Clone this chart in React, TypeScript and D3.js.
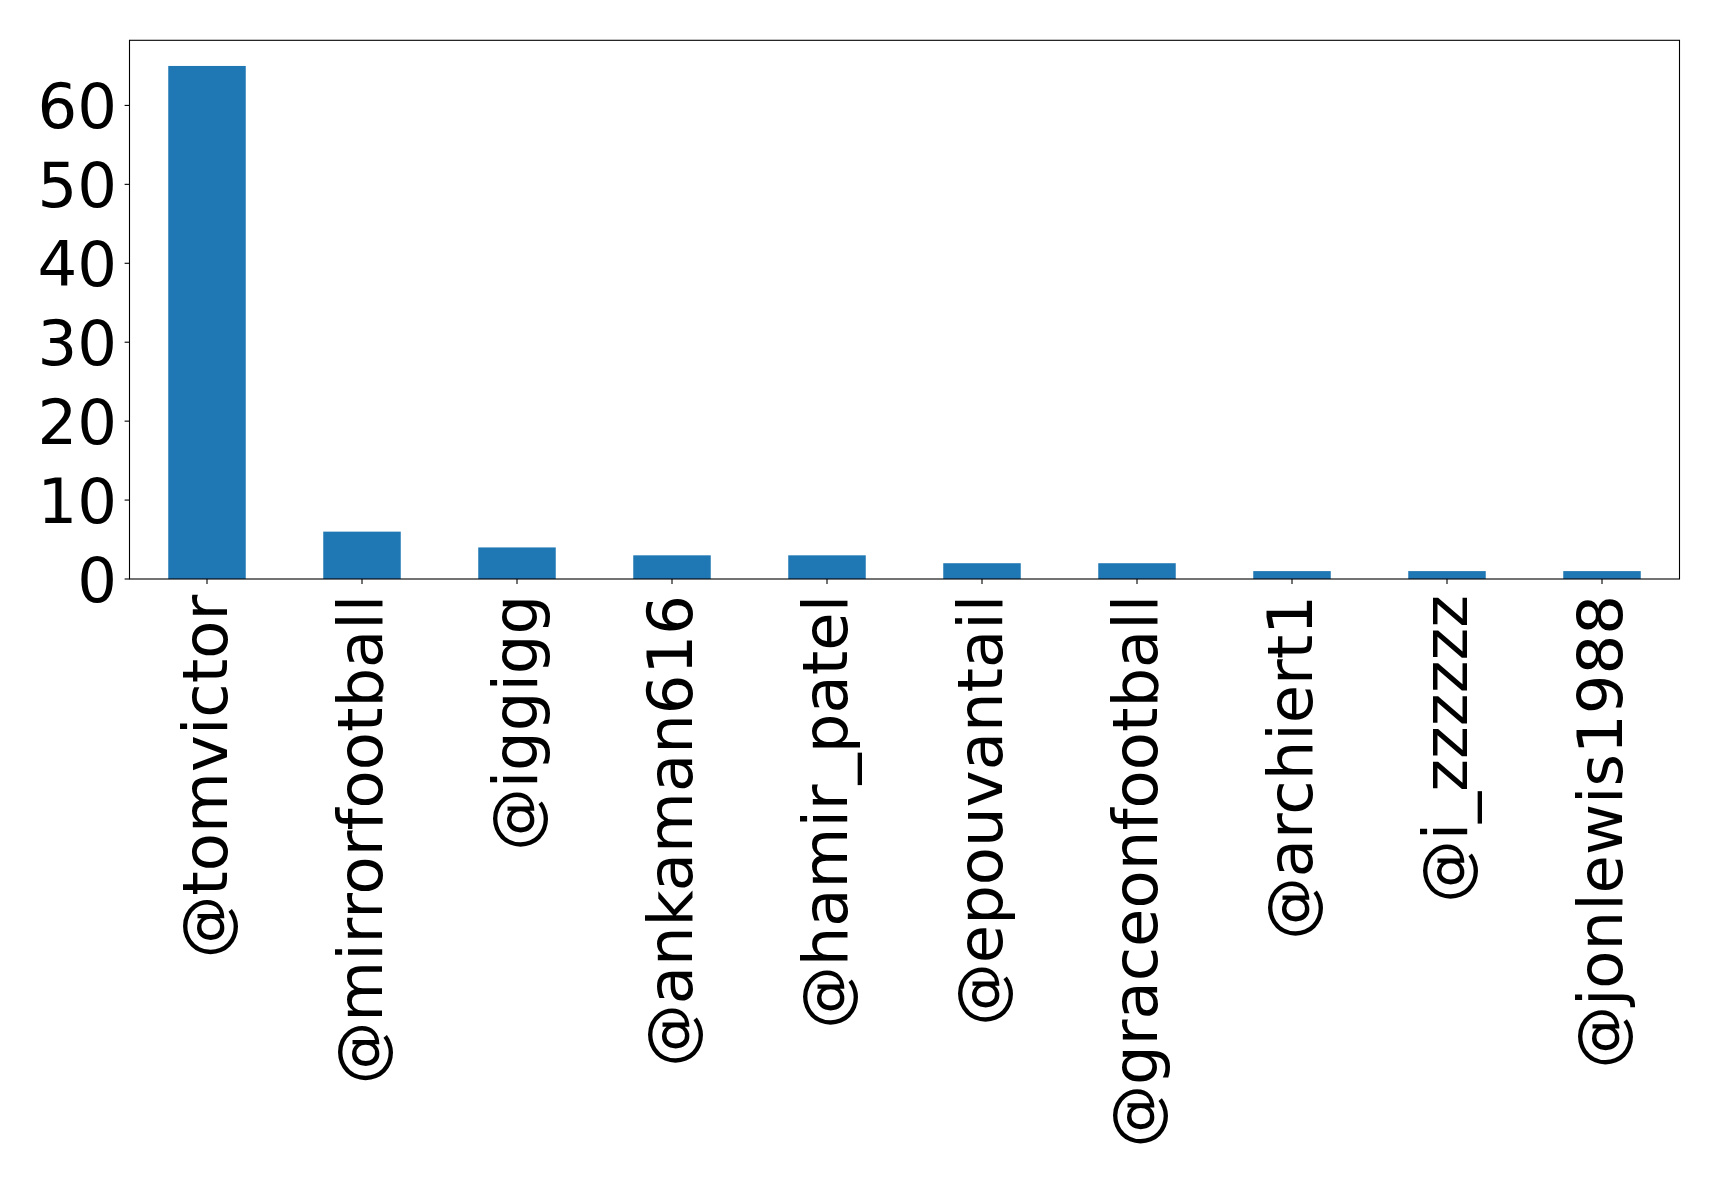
import React from "react";
import * as d3 from "d3";

const handles = [
  "@tomvictor",
  "@mirrorfootball",
  "@iggigg",
  "@ankaman616",
  "@hamir_patel",
  "@epouvantail",
  "@graceonfootball",
  "@archiert1",
  "@i_zzzzzz",
  "@jonlewis1988",
];
const counts = [65, 6, 4, 3, 3, 2, 2, 1, 1, 1];
const yTicks = [0, 10, 20, 30, 40, 50, 60];

const W = 1719;
const H = 1181;
const plot = { left: 129.5, right: 1679.5, top: 40.3, bottom: 579 };
const FONT = "'DejaVu Sans', sans-serif";
const FS = 62.5;
const TICK = 4.9;

export default function App() {
  const x = d3
    .scaleBand<string>()
    .domain(handles)
    .range([plot.left, plot.right])
    .paddingInner(0.5)
    .paddingOuter(0.25);
  const yMax = d3.max(counts)! * 1.05;
  const y = d3.scaleLinear().domain([0, yMax]).range([plot.bottom, plot.top]);

  return (
    <svg
      width={W}
      height={H}
      style={{ position: "absolute", left: 0, top: 0, background: "#fff" }}
      fontFamily={FONT}
    >
      <rect x={0} y={0} width={W} height={H} fill="#fff" />
      {handles.map((h, i) => (
        <rect
          key={h}
          x={x(h)}
          y={y(counts[i])}
          width={x.bandwidth()}
          height={y(0) - y(counts[i])}
          fill="#1f77b4"
        />
      ))}
      {/* frame */}
      <rect
        x={plot.left}
        y={plot.top}
        width={plot.right - plot.left}
        height={plot.bottom - plot.top}
        fill="none"
        stroke="#000"
        strokeWidth={1.1}
      />
      {/* y axis */}
      {yTicks.map((t) => (
        <g key={t}>
          <line
            x1={plot.left - TICK}
            x2={plot.left}
            y1={y(t)}
            y2={y(t)}
            stroke="#000"
            strokeWidth={1.1}
          />
          <text
            x={plot.left - TICK - 7.5}
            y={y(t) + 0.3645 * FS}
            textAnchor="end"
            fontSize={FS}
            fill="#000"
          >
            {t}
          </text>
        </g>
      ))}
      {/* x axis */}
      {handles.map((h) => {
        const cx = x(h)! + x.bandwidth() / 2;
        return (
          <g key={h}>
            <line
              x1={cx}
              x2={cx}
              y1={plot.bottom}
              y2={plot.bottom + TICK}
              stroke="#000"
              strokeWidth={1.1}
            />
            <text
              transform={`translate(${cx},${plot.bottom + TICK + 11}) rotate(-90)`}
              textAnchor="end"
              dy={20}
              fontSize={FS}
              fill="#000"
            >
              {h}
            </text>
          </g>
        );
      })}
    </svg>
  );
}
